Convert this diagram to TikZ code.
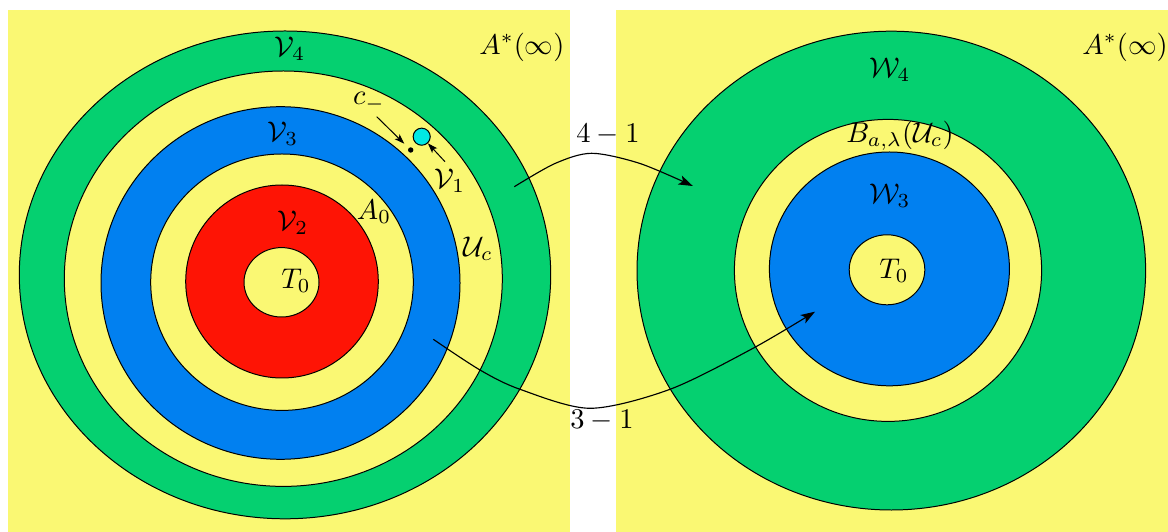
\documentclass[tikz,border=0pt]{standalone}
\usetikzlibrary{arrows.meta}
\definecolor{bgy}{RGB}{250,248,115}
\definecolor{grn}{RGB}{5,208,112}
\definecolor{blu}{RGB}{1,128,240}
\definecolor{rd}{RGB}{254,20,5}
\definecolor{cyn}{RGB}{0,232,228}
\begin{document}
\begin{tikzpicture}[x=0.351pt,y=-0.351pt,
  ring/.style={draw=black,line width=0.35pt},
  lbl/.style={inner sep=0pt},
  conn/.style={line width=0.4pt,-{Stealth[length=5pt,width=3.4pt,inset=1.2pt]}},
  smallarr/.style={line width=0.35pt,-{Stealth[length=3.5pt,width=2.4pt,inset=0.8pt]}}]
\useasboundingbox (0,0) rectangle (1168,532);
\fill[white] (0,0) rectangle (1168,532);
\fill[bgy] (8,10) rectangle (570,532);
\fill[bgy] (616,10) rectangle (1168,532);
% left panel rings
\draw[ring,fill=grn] (285,274.9) ellipse [x radius=265.7,y radius=243.9];
\draw[ring,fill=bgy] (283.3,278.7) ellipse [x radius=219,y radius=207.7];
\draw[ring,fill=blu] (280.5,283) ellipse [x radius=179.5,y radius=176.3];
\draw[ring,fill=bgy] (282,282.2) ellipse [x radius=131.3,y radius=128.2];
\draw[ring,fill=rd] (282,281.5) ellipse [x radius=96.3,y radius=96.5];
\draw[ring,fill=bgy] (281.5,282.3) ellipse [x radius=37.5,y radius=34.7];
% right panel rings
\draw[ring,fill=grn] (891.3,270.6) ellipse [x radius=254.3,y radius=239.4];
\draw[ring,fill=bgy] (888,270.4) ellipse [x radius=153.6,y radius=151];
\draw[ring,fill=blu] (889.4,268.9) ellipse [x radius=120,y radius=116.9];
\draw[ring,fill=bgy] (887,269.8) ellipse [x radius=37.8,y radius=35];
% small marks
\node[circle,fill=black,inner sep=0pt,minimum size=1.9pt] (dot) at (410.7,150) {};
\node[circle,draw=black,line width=0.35pt,fill=cyn,inner sep=0pt,minimum size=6pt] (v1c) at (421.7,136.7) {};
% labels left
\node[lbl] (astl) at (522,47) {$A^*(\infty)$};
\node[lbl] (v4) at (290,49) {$\mathcal{V}_4$};
\node[lbl] (v3) at (283,134) {$\mathcal{V}_3$};
\node[lbl] (v2) at (293,223) {$\mathcal{V}_2$};
\node[lbl] (t0l) at (296,281) {$T_0$};
\node[lbl] (a0) at (374,212) {$A_0$};
\node[lbl] (uc) at (478,249) {$\mathcal{U}_c$};
\node[lbl] (cm) at (369,102) {$c_-$};
\node[lbl] (v1) at (450,181) {$\mathcal{V}_1$};
% labels right
\node[lbl] (astr) at (1125,47) {$A^*(\infty)$};
\node[lbl] (w4) at (890,70) {$\mathcal{W}_4$};
\node[lbl] (bal) at (900,136) {$B_{a,\lambda}(\mathcal{U}_c)$};
\node[lbl] (w3) at (890,196) {$\mathcal{W}_3$};
\node[lbl] (t0r) at (894,271) {$T_0$};
% connector labels
\node[lbl] (l41) at (608,135) {$4-1$};
\node[lbl] (l31) at (602,421) {$3-1$};
% small arrows
\coordinate (cs) at (376.7,116.7);
\draw[smallarr,shorten >=2pt] (cs) -- (dot);
\coordinate (vs) at (445,161.7);
\draw[smallarr] (vs) -- (v1c);
% big arrows
\coordinate (s41) at (514.3,186.7);
\coordinate (e41) at (692.8,186);
\draw[conn] plot[smooth] coordinates {(s41) (555,163.5) (591.7,153.3) (640,163.5) (e41)};
\coordinate (s31) at (433.3,339.3);
\coordinate (e31) at (815,311.7);
\draw[conn] plot[smooth] coordinates {(s31) (480,370) (520,389.3) (590,408.3) (670,389.3) (753,348.3) (e31)};
\end{tikzpicture}
\end{document}
